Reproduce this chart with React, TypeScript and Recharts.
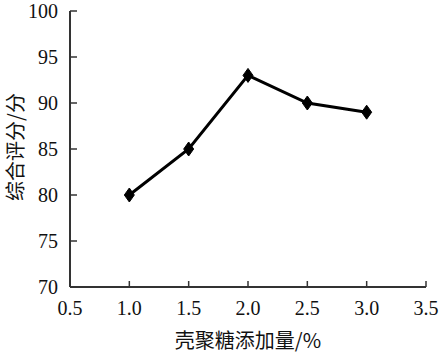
import React from "react";
import { LineChart, Line, XAxis, YAxis, Label } from "recharts";

const chitosanLevels = [1.0, 1.5, 2.0, 2.5, 3.0];
const scores = [80, 85, 93, 90, 89];
const xTicks = [0.5, 1.0, 1.5, 2.0, 2.5, 3.0, 3.5];
const yTicks = [70, 75, 80, 85, 90, 95, 100];
const xTitle = "壳聚糖添加量/%";
const yTitle = "综合评分/分";

const data = chitosanLevels.map((x, i) => ({ x, y: scores[i] }));

const serif = "'Liberation Serif', 'Times New Roman', serif";
const cjk = "'Noto Sans CJK SC', sans-serif";
const axisColor = "#333";

const XTick = (props: any) => {
  const { x, y, payload } = props;
  return (
    <g>
      <line x1={x} y1={y} x2={x} y2={y - 6} stroke={axisColor} strokeWidth={1.5} />
      <text x={x} y={y + 28} textAnchor="middle" fontFamily={serif} fontSize={20} fill="#111">
        {Number(payload.value).toFixed(1)}
      </text>
    </g>
  );
};

const YTick = (props: any) => {
  const { x, y, payload } = props;
  return (
    <g>
      <line x1={x} y1={y} x2={x + 7} y2={y} stroke={axisColor} strokeWidth={1.5} />
      <text x={x - 12} y={y + 7} textAnchor="end" fontFamily={serif} fontSize={20} fill="#111">
        {payload.value}
      </text>
    </g>
  );
};

const YTitle = (props: any) => {
  const vb = props.viewBox || {};
  const cy = (vb.y ?? 11) + (vb.height ?? 276) / 2 - 2;
  const cx = 14;
  return (
    <text
      x={cx}
      y={cy}
      transform={`rotate(-90, ${cx}, ${cy})`}
      textAnchor="middle"
      dominantBaseline="central"
      fontFamily={cjk}
      fontSize={20}
      fill="#111"
    >
      {yTitle}
    </text>
  );
};

const Diamond = (props: any) => {
  const { cx, cy } = props;
  if (cx == null || cy == null) return null;
  return (
    <polygon
      points={`${cx},${cy - 7} ${cx + 5},${cy} ${cx},${cy + 7} ${cx - 5},${cy}`}
      fill="#000"
      stroke="#000"
      strokeWidth={1}
    />
  );
};

export default function App() {
  return (
    <div style={{ position: "absolute", left: 0, top: 0, background: "#fff" }}>
      <LineChart
        width={445}
        height={356}
        data={data}
        margin={{ top: 11, right: 19, bottom: 0, left: 0 }}
      >
        <XAxis
          dataKey="x"
          type="number"
          domain={[0.5, 3.5]}
          ticks={xTicks}
          tick={<XTick />}
          tickLine={false}
          tickSize={0}
          tickMargin={0}
          height={69}
          stroke={axisColor}
          strokeWidth={2}
          interval={0}
        >
          <Label
            value={xTitle}
            position="insideBottom"
            offset={8}
            style={{ fontFamily: cjk, fontSize: 20, fill: "#111" }}
          />
        </XAxis>
        <YAxis
          type="number"
          domain={[70, 100]}
          ticks={yTicks}
          tick={<YTick />}
          tickLine={false}
          tickSize={0}
          tickMargin={0}
          width={70}
          stroke={axisColor}
          strokeWidth={2}
          interval={0}
        >
          <Label content={<YTitle />} />
        </YAxis>
        <Line
          dataKey="y"
          stroke="#000"
          strokeWidth={3}
          dot={<Diamond />}
          activeDot={false}
          isAnimationActive={false}
        />
      </LineChart>
    </div>
  );
}
